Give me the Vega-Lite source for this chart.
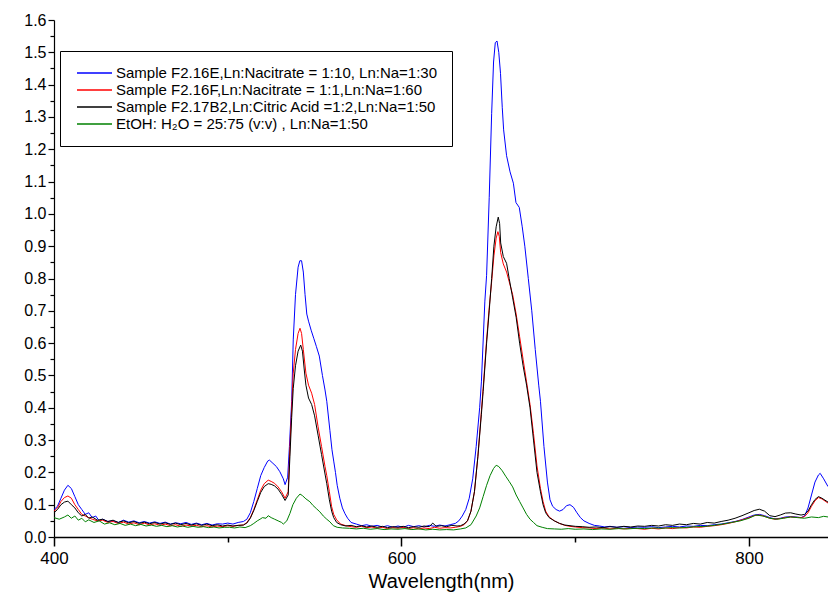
{
  "$schema": "https://vega.github.io/schema/vega-lite/v6.json",
  "width": 774,
  "height": 517,
  "autosize": {"type": "none"},
  "padding": {"left": 54, "top": 20, "right": 0, "bottom": 71},
  "config": {"view": {"stroke": null}, "font": "Liberation Sans"},
  "datasets": {
    "labels": [
      {"id": "E", "label": "Sample F2.16E,Ln:Nacitrate = 1:10, Ln:Na=1:30"},
      {"id": "F", "label": "Sample F2.16F,Ln:Nacitrate = 1:1,Ln:Na=1:60"},
      {"id": "B2", "label": "Sample F2.17B2,Ln:Citric Acid =1:2,Ln:Na=1:50"},
      {"id": "G", "label": "EtOH: H₂O = 25:75 (v:v) , Ln:Na=1:50"}
    ]
  },
  "data": {"values": [
{"id":"E","nm":400,"v":0.085},{"id":"E","nm":402,"v":0.095},{"id":"E","nm":404,"v":0.12},{"id":"E","nm":406,"v":0.145},{"id":"E","nm":408,"v":0.16},{"id":"E","nm":410,"v":0.15},{"id":"E","nm":412,"v":0.125},{"id":"E","nm":414,"v":0.1},{"id":"E","nm":416,"v":0.085},{"id":"E","nm":418,"v":0.07},{"id":"E","nm":420,"v":0.075},{"id":"E","nm":422,"v":0.06},{"id":"E","nm":424,"v":0.065},{"id":"E","nm":426,"v":0.05},{"id":"E","nm":428,"v":0.055},{"id":"E","nm":431,"v":0.048},{"id":"E","nm":434,"v":0.05},{"id":"E","nm":437,"v":0.045},{"id":"E","nm":440,"v":0.052},{"id":"E","nm":443,"v":0.046},{"id":"E","nm":446,"v":0.05},{"id":"E","nm":449,"v":0.044},{"id":"E","nm":452,"v":0.048},{"id":"E","nm":455,"v":0.043},{"id":"E","nm":458,"v":0.047},{"id":"E","nm":461,"v":0.042},{"id":"E","nm":464,"v":0.046},{"id":"E","nm":467,"v":0.04},{"id":"E","nm":470,"v":0.044},{"id":"E","nm":473,"v":0.041},{"id":"E","nm":476,"v":0.045},{"id":"E","nm":479,"v":0.039},{"id":"E","nm":482,"v":0.043},{"id":"E","nm":485,"v":0.038},{"id":"E","nm":488,"v":0.042},{"id":"E","nm":491,"v":0.037},{"id":"E","nm":494,"v":0.041},{"id":"E","nm":497,"v":0.04},{"id":"E","nm":500,"v":0.043},{"id":"E","nm":503,"v":0.04},{"id":"E","nm":506,"v":0.045},{"id":"E","nm":509,"v":0.048},{"id":"E","nm":511,"v":0.055},{"id":"E","nm":513,"v":0.075},{"id":"E","nm":515,"v":0.11},{"id":"E","nm":517,"v":0.15},{"id":"E","nm":519,"v":0.19},{"id":"E","nm":521,"v":0.215},{"id":"E","nm":523,"v":0.235},{"id":"E","nm":524,"v":0.238},{"id":"E","nm":526,"v":0.228},{"id":"E","nm":528,"v":0.218},{"id":"E","nm":530,"v":0.202},{"id":"E","nm":532,"v":0.18},{"id":"E","nm":533,"v":0.162},{"id":"E","nm":534.5,"v":0.185},{"id":"E","nm":535.5,"v":0.28},{"id":"E","nm":536.8,"v":0.42},{"id":"E","nm":537.7,"v":0.61},{"id":"E","nm":539,"v":0.75},{"id":"E","nm":540.5,"v":0.835},{"id":"E","nm":541.5,"v":0.855},{"id":"E","nm":542.5,"v":0.855},{"id":"E","nm":543.5,"v":0.82},{"id":"E","nm":544.5,"v":0.75},{"id":"E","nm":545.5,"v":0.69},{"id":"E","nm":546.5,"v":0.668},{"id":"E","nm":548,"v":0.64},{"id":"E","nm":549.5,"v":0.615},{"id":"E","nm":551,"v":0.59},{"id":"E","nm":552.7,"v":0.56},{"id":"E","nm":554.5,"v":0.5},{"id":"E","nm":556,"v":0.455},{"id":"E","nm":557,"v":0.42},{"id":"E","nm":558.8,"v":0.33},{"id":"E","nm":560,"v":0.27},{"id":"E","nm":561,"v":0.235},{"id":"E","nm":562,"v":0.2},{"id":"E","nm":563,"v":0.16},{"id":"E","nm":564.5,"v":0.12},{"id":"E","nm":566,"v":0.09},{"id":"E","nm":567.5,"v":0.072},{"id":"E","nm":569,"v":0.058},{"id":"E","nm":571,"v":0.045},{"id":"E","nm":574,"v":0.04},{"id":"E","nm":577,"v":0.035},{"id":"E","nm":580,"v":0.038},{"id":"E","nm":583,"v":0.033},{"id":"E","nm":586,"v":0.036},{"id":"E","nm":589,"v":0.031},{"id":"E","nm":592,"v":0.035},{"id":"E","nm":595,"v":0.03},{"id":"E","nm":598,"v":0.034},{"id":"E","nm":601,"v":0.03},{"id":"E","nm":604,"v":0.036},{"id":"E","nm":607,"v":0.032},{"id":"E","nm":610,"v":0.035},{"id":"E","nm":613,"v":0.031},{"id":"E","nm":616,"v":0.036},{"id":"E","nm":619,"v":0.033},{"id":"E","nm":622,"v":0.037},{"id":"E","nm":625,"v":0.034},{"id":"E","nm":628,"v":0.038},{"id":"E","nm":631,"v":0.042},{"id":"E","nm":633,"v":0.05},{"id":"E","nm":635,"v":0.065},{"id":"E","nm":637,"v":0.085},{"id":"E","nm":639,"v":0.12},{"id":"E","nm":641,"v":0.18},{"id":"E","nm":643,"v":0.28},{"id":"E","nm":645,"v":0.4},{"id":"E","nm":646,"v":0.48},{"id":"E","nm":648,"v":0.73},{"id":"E","nm":649,"v":0.81},{"id":"E","nm":650.5,"v":1.05},{"id":"E","nm":651.9,"v":1.31},{"id":"E","nm":653,"v":1.47},{"id":"E","nm":654,"v":1.53},{"id":"E","nm":655,"v":1.535},{"id":"E","nm":656,"v":1.5},{"id":"E","nm":657,"v":1.435},{"id":"E","nm":658,"v":1.33},{"id":"E","nm":658.8,"v":1.26},{"id":"E","nm":660.5,"v":1.18},{"id":"E","nm":662.5,"v":1.13},{"id":"E","nm":664.4,"v":1.095},{"id":"E","nm":665.9,"v":1.035},{"id":"E","nm":667.8,"v":1.02},{"id":"E","nm":669.5,"v":0.96},{"id":"E","nm":671,"v":0.9},{"id":"E","nm":673,"v":0.8},{"id":"E","nm":675,"v":0.7},{"id":"E","nm":677,"v":0.58},{"id":"E","nm":679,"v":0.47},{"id":"E","nm":680,"v":0.42},{"id":"E","nm":682,"v":0.28},{"id":"E","nm":684,"v":0.17},{"id":"E","nm":685.5,"v":0.115},{"id":"E","nm":687,"v":0.095},{"id":"E","nm":689,"v":0.085},{"id":"E","nm":691,"v":0.08},{"id":"E","nm":693,"v":0.085},{"id":"E","nm":695,"v":0.097},{"id":"E","nm":697,"v":0.1},{"id":"E","nm":699,"v":0.092},{"id":"E","nm":701,"v":0.075},{"id":"E","nm":703,"v":0.06},{"id":"E","nm":705,"v":0.05},{"id":"E","nm":708,"v":0.042},{"id":"E","nm":711,"v":0.036},{"id":"E","nm":714,"v":0.034},{"id":"E","nm":717,"v":0.031},{"id":"E","nm":720,"v":0.033},{"id":"E","nm":724,"v":0.03},{"id":"E","nm":728,"v":0.032},{"id":"E","nm":732,"v":0.029},{"id":"E","nm":736,"v":0.031},{"id":"E","nm":740,"v":0.03},{"id":"E","nm":744,"v":0.032},{"id":"E","nm":748,"v":0.029},{"id":"E","nm":752,"v":0.031},{"id":"E","nm":756,"v":0.033},{"id":"E","nm":760,"v":0.031},{"id":"E","nm":764,"v":0.034},{"id":"E","nm":768,"v":0.033},{"id":"E","nm":772,"v":0.036},{"id":"E","nm":776,"v":0.035},{"id":"E","nm":780,"v":0.038},{"id":"E","nm":784,"v":0.04},{"id":"E","nm":788,"v":0.044},{"id":"E","nm":792,"v":0.048},{"id":"E","nm":796,"v":0.054},{"id":"E","nm":800,"v":0.062},{"id":"E","nm":803,"v":0.068},{"id":"E","nm":806,"v":0.07},{"id":"E","nm":809,"v":0.066},{"id":"E","nm":812,"v":0.06},{"id":"E","nm":815,"v":0.056},{"id":"E","nm":818,"v":0.058},{"id":"E","nm":821,"v":0.062},{"id":"E","nm":824,"v":0.063},{"id":"E","nm":827,"v":0.062},{"id":"E","nm":830,"v":0.06},{"id":"E","nm":832,"v":0.065},{"id":"E","nm":834,"v":0.09},{"id":"E","nm":836,"v":0.13},{"id":"E","nm":838,"v":0.17},{"id":"E","nm":840,"v":0.192},{"id":"E","nm":841,"v":0.197},{"id":"E","nm":843,"v":0.18},{"id":"E","nm":845.5,"v":0.156},

{"id":"F","nm":400,"v":0.08},{"id":"F","nm":402,"v":0.09},{"id":"F","nm":404,"v":0.11},{"id":"F","nm":406,"v":0.122},{"id":"F","nm":408,"v":0.127},{"id":"F","nm":410,"v":0.12},{"id":"F","nm":412,"v":0.1},{"id":"F","nm":414,"v":0.085},{"id":"F","nm":416,"v":0.07},{"id":"F","nm":418,"v":0.065},{"id":"F","nm":420,"v":0.06},{"id":"F","nm":422,"v":0.055},{"id":"F","nm":425,"v":0.05},{"id":"F","nm":428,"v":0.052},{"id":"F","nm":431,"v":0.045},{"id":"F","nm":434,"v":0.048},{"id":"F","nm":437,"v":0.042},{"id":"F","nm":440,"v":0.046},{"id":"F","nm":443,"v":0.04},{"id":"F","nm":446,"v":0.044},{"id":"F","nm":449,"v":0.038},{"id":"F","nm":452,"v":0.043},{"id":"F","nm":455,"v":0.037},{"id":"F","nm":458,"v":0.041},{"id":"F","nm":461,"v":0.036},{"id":"F","nm":464,"v":0.04},{"id":"F","nm":467,"v":0.035},{"id":"F","nm":470,"v":0.038},{"id":"F","nm":473,"v":0.033},{"id":"F","nm":476,"v":0.037},{"id":"F","nm":479,"v":0.034},{"id":"F","nm":482,"v":0.036},{"id":"F","nm":485,"v":0.032},{"id":"F","nm":488,"v":0.035},{"id":"F","nm":491,"v":0.031},{"id":"F","nm":494,"v":0.034},{"id":"F","nm":497,"v":0.032},{"id":"F","nm":500,"v":0.035},{"id":"F","nm":503,"v":0.033},{"id":"F","nm":506,"v":0.036},{"id":"F","nm":509,"v":0.037},{"id":"F","nm":511,"v":0.045},{"id":"F","nm":513,"v":0.06},{"id":"F","nm":515,"v":0.085},{"id":"F","nm":517,"v":0.115},{"id":"F","nm":519,"v":0.145},{"id":"F","nm":521,"v":0.165},{"id":"F","nm":523.3,"v":0.176},{"id":"F","nm":525,"v":0.172},{"id":"F","nm":527,"v":0.166},{"id":"F","nm":529,"v":0.155},{"id":"F","nm":531,"v":0.14},{"id":"F","nm":533,"v":0.12},{"id":"F","nm":534.8,"v":0.14},{"id":"F","nm":535.8,"v":0.28},{"id":"F","nm":536.8,"v":0.4},{"id":"F","nm":537.7,"v":0.507},{"id":"F","nm":539,"v":0.58},{"id":"F","nm":540.5,"v":0.63},{"id":"F","nm":541.6,"v":0.646},{"id":"F","nm":542.5,"v":0.63},{"id":"F","nm":543.5,"v":0.58},{"id":"F","nm":545,"v":0.507},{"id":"F","nm":546.5,"v":0.47},{"id":"F","nm":548.3,"v":0.445},{"id":"F","nm":550,"v":0.41},{"id":"F","nm":552,"v":0.341},{"id":"F","nm":554,"v":0.28},{"id":"F","nm":556,"v":0.218},{"id":"F","nm":557,"v":0.19},{"id":"F","nm":558.5,"v":0.14},{"id":"F","nm":559.8,"v":0.094},{"id":"F","nm":561,"v":0.07},{"id":"F","nm":562.7,"v":0.053},{"id":"F","nm":565,"v":0.04},{"id":"F","nm":568,"v":0.035},{"id":"F","nm":571,"v":0.032},{"id":"F","nm":574,"v":0.03},{"id":"F","nm":577,"v":0.033},{"id":"F","nm":580,"v":0.029},{"id":"F","nm":583,"v":0.031},{"id":"F","nm":586,"v":0.027},{"id":"F","nm":589,"v":0.03},{"id":"F","nm":592,"v":0.026},{"id":"F","nm":595,"v":0.029},{"id":"F","nm":598,"v":0.027},{"id":"F","nm":601,"v":0.03},{"id":"F","nm":604,"v":0.026},{"id":"F","nm":607,"v":0.029},{"id":"F","nm":610,"v":0.025},{"id":"F","nm":613,"v":0.028},{"id":"F","nm":616,"v":0.026},{"id":"F","nm":619,"v":0.03},{"id":"F","nm":622,"v":0.027},{"id":"F","nm":625,"v":0.029},{"id":"F","nm":628,"v":0.028},{"id":"F","nm":631,"v":0.03},{"id":"F","nm":634,"v":0.033},{"id":"F","nm":636,"v":0.038},{"id":"F","nm":638,"v":0.05},{"id":"F","nm":640,"v":0.08},{"id":"F","nm":642,"v":0.14},{"id":"F","nm":644,"v":0.25},{"id":"F","nm":646,"v":0.39},{"id":"F","nm":647,"v":0.46},{"id":"F","nm":649,"v":0.61},{"id":"F","nm":650.5,"v":0.71},{"id":"F","nm":651.9,"v":0.79},{"id":"F","nm":653.2,"v":0.87},{"id":"F","nm":654.5,"v":0.925},{"id":"F","nm":655.5,"v":0.945},{"id":"F","nm":656.3,"v":0.93},{"id":"F","nm":657.1,"v":0.88},{"id":"F","nm":658.6,"v":0.845},{"id":"F","nm":660.5,"v":0.82},{"id":"F","nm":662,"v":0.79},{"id":"F","nm":664,"v":0.75},{"id":"F","nm":666,"v":0.69},{"id":"F","nm":668,"v":0.62},{"id":"F","nm":670,"v":0.55},{"id":"F","nm":672,"v":0.48},{"id":"F","nm":674,"v":0.41},{"id":"F","nm":676,"v":0.32},{"id":"F","nm":678,"v":0.22},{"id":"F","nm":680,"v":0.15},{"id":"F","nm":681.5,"v":0.11},{"id":"F","nm":683,"v":0.08},{"id":"F","nm":685,"v":0.062},{"id":"F","nm":688,"v":0.05},{"id":"F","nm":691,"v":0.042},{"id":"F","nm":694,"v":0.036},{"id":"F","nm":697,"v":0.033},{"id":"F","nm":700,"v":0.031},{"id":"F","nm":704,"v":0.029},{"id":"F","nm":708,"v":0.028},{"id":"F","nm":712,"v":0.026},{"id":"F","nm":716,"v":0.028},{"id":"F","nm":720,"v":0.025},{"id":"F","nm":724,"v":0.027},{"id":"F","nm":728,"v":0.025},{"id":"F","nm":732,"v":0.027},{"id":"F","nm":736,"v":0.026},{"id":"F","nm":740,"v":0.024},{"id":"F","nm":744,"v":0.027},{"id":"F","nm":748,"v":0.025},{"id":"F","nm":752,"v":0.028},{"id":"F","nm":756,"v":0.026},{"id":"F","nm":760,"v":0.029},{"id":"F","nm":764,"v":0.028},{"id":"F","nm":768,"v":0.031},{"id":"F","nm":772,"v":0.03},{"id":"F","nm":776,"v":0.033},{"id":"F","nm":780,"v":0.035},{"id":"F","nm":784,"v":0.038},{"id":"F","nm":788,"v":0.042},{"id":"F","nm":792,"v":0.047},{"id":"F","nm":796,"v":0.053},{"id":"F","nm":800,"v":0.06},{"id":"F","nm":803,"v":0.066},{"id":"F","nm":806,"v":0.068},{"id":"F","nm":809,"v":0.064},{"id":"F","nm":812,"v":0.058},{"id":"F","nm":815,"v":0.055},{"id":"F","nm":818,"v":0.057},{"id":"F","nm":821,"v":0.06},{"id":"F","nm":824,"v":0.062},{"id":"F","nm":827,"v":0.061},{"id":"F","nm":830,"v":0.06},{"id":"F","nm":832,"v":0.063},{"id":"F","nm":834,"v":0.075},{"id":"F","nm":836,"v":0.095},{"id":"F","nm":838,"v":0.112},{"id":"F","nm":840,"v":0.122},{"id":"F","nm":842,"v":0.118},{"id":"F","nm":845.5,"v":0.105},

{"id":"B2","nm":400,"v":0.075},{"id":"B2","nm":402,"v":0.085},{"id":"B2","nm":404,"v":0.1},{"id":"B2","nm":406,"v":0.108},{"id":"B2","nm":408,"v":0.111},{"id":"B2","nm":410,"v":0.1},{"id":"B2","nm":412,"v":0.09},{"id":"B2","nm":414,"v":0.075},{"id":"B2","nm":416,"v":0.065},{"id":"B2","nm":418,"v":0.07},{"id":"B2","nm":420,"v":0.058},{"id":"B2","nm":422,"v":0.062},{"id":"B2","nm":425,"v":0.052},{"id":"B2","nm":428,"v":0.055},{"id":"B2","nm":431,"v":0.048},{"id":"B2","nm":434,"v":0.052},{"id":"B2","nm":437,"v":0.045},{"id":"B2","nm":440,"v":0.05},{"id":"B2","nm":443,"v":0.044},{"id":"B2","nm":446,"v":0.048},{"id":"B2","nm":449,"v":0.042},{"id":"B2","nm":452,"v":0.046},{"id":"B2","nm":455,"v":0.041},{"id":"B2","nm":458,"v":0.045},{"id":"B2","nm":461,"v":0.04},{"id":"B2","nm":464,"v":0.044},{"id":"B2","nm":467,"v":0.039},{"id":"B2","nm":470,"v":0.043},{"id":"B2","nm":473,"v":0.038},{"id":"B2","nm":476,"v":0.042},{"id":"B2","nm":479,"v":0.037},{"id":"B2","nm":482,"v":0.041},{"id":"B2","nm":485,"v":0.036},{"id":"B2","nm":488,"v":0.04},{"id":"B2","nm":491,"v":0.035},{"id":"B2","nm":494,"v":0.038},{"id":"B2","nm":497,"v":0.034},{"id":"B2","nm":500,"v":0.037},{"id":"B2","nm":503,"v":0.034},{"id":"B2","nm":506,"v":0.036},{"id":"B2","nm":509,"v":0.037},{"id":"B2","nm":511,"v":0.043},{"id":"B2","nm":513,"v":0.058},{"id":"B2","nm":515,"v":0.082},{"id":"B2","nm":517,"v":0.11},{"id":"B2","nm":519,"v":0.138},{"id":"B2","nm":521,"v":0.156},{"id":"B2","nm":523.3,"v":0.165},{"id":"B2","nm":525,"v":0.163},{"id":"B2","nm":527,"v":0.158},{"id":"B2","nm":529,"v":0.148},{"id":"B2","nm":531,"v":0.132},{"id":"B2","nm":533,"v":0.113},{"id":"B2","nm":534.8,"v":0.13},{"id":"B2","nm":535.8,"v":0.25},{"id":"B2","nm":536.8,"v":0.37},{"id":"B2","nm":537.7,"v":0.46},{"id":"B2","nm":539,"v":0.53},{"id":"B2","nm":540.5,"v":0.575},{"id":"B2","nm":542,"v":0.594},{"id":"B2","nm":543,"v":0.575},{"id":"B2","nm":544,"v":0.52},{"id":"B2","nm":545,"v":0.47},{"id":"B2","nm":546.5,"v":0.43},{"id":"B2","nm":548.3,"v":0.41},{"id":"B2","nm":550,"v":0.375},{"id":"B2","nm":552,"v":0.315},{"id":"B2","nm":554,"v":0.255},{"id":"B2","nm":556,"v":0.195},{"id":"B2","nm":557,"v":0.165},{"id":"B2","nm":558.5,"v":0.115},{"id":"B2","nm":559.8,"v":0.08},{"id":"B2","nm":561,"v":0.06},{"id":"B2","nm":562.7,"v":0.045},{"id":"B2","nm":565,"v":0.038},{"id":"B2","nm":568,"v":0.034},{"id":"B2","nm":571,"v":0.036},{"id":"B2","nm":574,"v":0.032},{"id":"B2","nm":577,"v":0.035},{"id":"B2","nm":580,"v":0.031},{"id":"B2","nm":583,"v":0.034},{"id":"B2","nm":586,"v":0.03},{"id":"B2","nm":589,"v":0.033},{"id":"B2","nm":592,"v":0.029},{"id":"B2","nm":595,"v":0.032},{"id":"B2","nm":598,"v":0.03},{"id":"B2","nm":601,"v":0.033},{"id":"B2","nm":604,"v":0.029},{"id":"B2","nm":607,"v":0.032},{"id":"B2","nm":610,"v":0.03},{"id":"B2","nm":613,"v":0.034},{"id":"B2","nm":616,"v":0.032},{"id":"B2","nm":618,"v":0.043},{"id":"B2","nm":620,"v":0.033},{"id":"B2","nm":623,"v":0.035},{"id":"B2","nm":626,"v":0.032},{"id":"B2","nm":629,"v":0.036},{"id":"B2","nm":632,"v":0.034},{"id":"B2","nm":634,"v":0.035},{"id":"B2","nm":636,"v":0.04},{"id":"B2","nm":638,"v":0.05},{"id":"B2","nm":640,"v":0.08},{"id":"B2","nm":642,"v":0.14},{"id":"B2","nm":644,"v":0.25},{"id":"B2","nm":646,"v":0.38},{"id":"B2","nm":647,"v":0.45},{"id":"B2","nm":649,"v":0.6},{"id":"B2","nm":650.5,"v":0.7},{"id":"B2","nm":651.9,"v":0.8},{"id":"B2","nm":653.2,"v":0.9},{"id":"B2","nm":654.5,"v":0.96},{"id":"B2","nm":655.7,"v":0.99},{"id":"B2","nm":656.5,"v":0.97},{"id":"B2","nm":657.1,"v":0.91},{"id":"B2","nm":658.6,"v":0.868},{"id":"B2","nm":660.5,"v":0.847},{"id":"B2","nm":662,"v":0.8},{"id":"B2","nm":664,"v":0.74},{"id":"B2","nm":666,"v":0.68},{"id":"B2","nm":668,"v":0.6},{"id":"B2","nm":670,"v":0.53},{"id":"B2","nm":672,"v":0.47},{"id":"B2","nm":674,"v":0.4},{"id":"B2","nm":676,"v":0.3},{"id":"B2","nm":678,"v":0.2},{"id":"B2","nm":680,"v":0.14},{"id":"B2","nm":681.5,"v":0.1},{"id":"B2","nm":683,"v":0.075},{"id":"B2","nm":685,"v":0.06},{"id":"B2","nm":688,"v":0.05},{"id":"B2","nm":691,"v":0.042},{"id":"B2","nm":694,"v":0.037},{"id":"B2","nm":697,"v":0.035},{"id":"B2","nm":700,"v":0.033},{"id":"B2","nm":704,"v":0.032},{"id":"B2","nm":708,"v":0.03},{"id":"B2","nm":712,"v":0.031},{"id":"B2","nm":716,"v":0.029},{"id":"B2","nm":720,"v":0.032},{"id":"B2","nm":724,"v":0.03},{"id":"B2","nm":728,"v":0.033},{"id":"B2","nm":732,"v":0.031},{"id":"B2","nm":736,"v":0.034},{"id":"B2","nm":740,"v":0.033},{"id":"B2","nm":744,"v":0.036},{"id":"B2","nm":748,"v":0.034},{"id":"B2","nm":752,"v":0.038},{"id":"B2","nm":756,"v":0.036},{"id":"B2","nm":760,"v":0.04},{"id":"B2","nm":764,"v":0.038},{"id":"B2","nm":768,"v":0.042},{"id":"B2","nm":772,"v":0.04},{"id":"B2","nm":776,"v":0.045},{"id":"B2","nm":780,"v":0.043},{"id":"B2","nm":784,"v":0.048},{"id":"B2","nm":788,"v":0.052},{"id":"B2","nm":792,"v":0.058},{"id":"B2","nm":796,"v":0.066},{"id":"B2","nm":800,"v":0.075},{"id":"B2","nm":803,"v":0.082},{"id":"B2","nm":806,"v":0.086},{"id":"B2","nm":809,"v":0.08},{"id":"B2","nm":812,"v":0.066},{"id":"B2","nm":815,"v":0.063},{"id":"B2","nm":818,"v":0.068},{"id":"B2","nm":821,"v":0.074},{"id":"B2","nm":824,"v":0.075},{"id":"B2","nm":827,"v":0.071},{"id":"B2","nm":830,"v":0.068},{"id":"B2","nm":832,"v":0.07},{"id":"B2","nm":834,"v":0.08},{"id":"B2","nm":836,"v":0.1},{"id":"B2","nm":838,"v":0.116},{"id":"B2","nm":840,"v":0.125},{"id":"B2","nm":842,"v":0.12},{"id":"B2","nm":845.5,"v":0.108},

{"id":"G","nm":400,"v":0.06},{"id":"G","nm":403,"v":0.055},{"id":"G","nm":406,"v":0.062},{"id":"G","nm":408,"v":0.068},{"id":"G","nm":410,"v":0.058},{"id":"G","nm":412,"v":0.065},{"id":"G","nm":414,"v":0.052},{"id":"G","nm":416,"v":0.058},{"id":"G","nm":418,"v":0.047},{"id":"G","nm":420,"v":0.053},{"id":"G","nm":423,"v":0.045},{"id":"G","nm":426,"v":0.05},{"id":"G","nm":429,"v":0.04},{"id":"G","nm":432,"v":0.044},{"id":"G","nm":435,"v":0.038},{"id":"G","nm":438,"v":0.042},{"id":"G","nm":441,"v":0.036},{"id":"G","nm":444,"v":0.04},{"id":"G","nm":447,"v":0.035},{"id":"G","nm":450,"v":0.039},{"id":"G","nm":453,"v":0.034},{"id":"G","nm":456,"v":0.037},{"id":"G","nm":459,"v":0.033},{"id":"G","nm":462,"v":0.036},{"id":"G","nm":465,"v":0.032},{"id":"G","nm":468,"v":0.035},{"id":"G","nm":471,"v":0.031},{"id":"G","nm":474,"v":0.034},{"id":"G","nm":477,"v":0.03},{"id":"G","nm":480,"v":0.033},{"id":"G","nm":483,"v":0.03},{"id":"G","nm":486,"v":0.032},{"id":"G","nm":489,"v":0.029},{"id":"G","nm":492,"v":0.031},{"id":"G","nm":495,"v":0.028},{"id":"G","nm":498,"v":0.03},{"id":"G","nm":501,"v":0.03},{"id":"G","nm":504,"v":0.028},{"id":"G","nm":507,"v":0.031},{"id":"G","nm":510,"v":0.029},{"id":"G","nm":513,"v":0.035},{"id":"G","nm":515,"v":0.042},{"id":"G","nm":517,"v":0.05},{"id":"G","nm":518.6,"v":0.055},{"id":"G","nm":520,"v":0.06},{"id":"G","nm":522,"v":0.058},{"id":"G","nm":523.3,"v":0.066},{"id":"G","nm":525,"v":0.06},{"id":"G","nm":527,"v":0.055},{"id":"G","nm":529,"v":0.05},{"id":"G","nm":531,"v":0.045},{"id":"G","nm":532,"v":0.04},{"id":"G","nm":534,"v":0.05},{"id":"G","nm":535.8,"v":0.073},{"id":"G","nm":537.5,"v":0.1},{"id":"G","nm":539.5,"v":0.12},{"id":"G","nm":541.6,"v":0.133},{"id":"G","nm":543,"v":0.128},{"id":"G","nm":545,"v":0.118},{"id":"G","nm":547.3,"v":0.109},{"id":"G","nm":549,"v":0.098},{"id":"G","nm":551,"v":0.088},{"id":"G","nm":553,"v":0.078},{"id":"G","nm":555,"v":0.065},{"id":"G","nm":557,"v":0.055},{"id":"G","nm":558.8,"v":0.047},{"id":"G","nm":560.8,"v":0.035},{"id":"G","nm":563,"v":0.03},{"id":"G","nm":566,"v":0.028},{"id":"G","nm":570,"v":0.027},{"id":"G","nm":574,"v":0.025},{"id":"G","nm":578,"v":0.027},{"id":"G","nm":582,"v":0.024},{"id":"G","nm":586,"v":0.026},{"id":"G","nm":590,"v":0.023},{"id":"G","nm":594,"v":0.025},{"id":"G","nm":598,"v":0.024},{"id":"G","nm":602,"v":0.026},{"id":"G","nm":606,"v":0.023},{"id":"G","nm":610,"v":0.025},{"id":"G","nm":614,"v":0.022},{"id":"G","nm":618,"v":0.024},{"id":"G","nm":622,"v":0.022},{"id":"G","nm":626,"v":0.023},{"id":"G","nm":630,"v":0.022},{"id":"G","nm":634,"v":0.025},{"id":"G","nm":637,"v":0.028},{"id":"G","nm":640,"v":0.038},{"id":"G","nm":643,"v":0.065},{"id":"G","nm":645,"v":0.09},{"id":"G","nm":647,"v":0.125},{"id":"G","nm":649,"v":0.16},{"id":"G","nm":651,"v":0.19},{"id":"G","nm":653,"v":0.212},{"id":"G","nm":654.5,"v":0.222},{"id":"G","nm":656,"v":0.218},{"id":"G","nm":658,"v":0.205},{"id":"G","nm":660,"v":0.188},{"id":"G","nm":662,"v":0.172},{"id":"G","nm":664,"v":0.155},{"id":"G","nm":666,"v":0.13},{"id":"G","nm":668,"v":0.11},{"id":"G","nm":670,"v":0.09},{"id":"G","nm":672,"v":0.07},{"id":"G","nm":674,"v":0.055},{"id":"G","nm":676,"v":0.045},{"id":"G","nm":678,"v":0.035},{"id":"G","nm":681,"v":0.03},{"id":"G","nm":684,"v":0.026},{"id":"G","nm":688,"v":0.025},{"id":"G","nm":692,"v":0.024},{"id":"G","nm":696,"v":0.026},{"id":"G","nm":700,"v":0.024},{"id":"G","nm":705,"v":0.025},{"id":"G","nm":710,"v":0.023},{"id":"G","nm":715,"v":0.025},{"id":"G","nm":720,"v":0.024},{"id":"G","nm":725,"v":0.026},{"id":"G","nm":730,"v":0.025},{"id":"G","nm":735,"v":0.027},{"id":"G","nm":740,"v":0.026},{"id":"G","nm":745,"v":0.028},{"id":"G","nm":750,"v":0.027},{"id":"G","nm":755,"v":0.029},{"id":"G","nm":760,"v":0.028},{"id":"G","nm":765,"v":0.03},{"id":"G","nm":770,"v":0.032},{"id":"G","nm":775,"v":0.033},{"id":"G","nm":780,"v":0.036},{"id":"G","nm":785,"v":0.04},{"id":"G","nm":790,"v":0.045},{"id":"G","nm":795,"v":0.05},{"id":"G","nm":800,"v":0.058},{"id":"G","nm":804,"v":0.068},{"id":"G","nm":808,"v":0.065},{"id":"G","nm":812,"v":0.058},{"id":"G","nm":816,"v":0.055},{"id":"G","nm":820,"v":0.058},{"id":"G","nm":824,"v":0.062},{"id":"G","nm":828,"v":0.06},{"id":"G","nm":832,"v":0.058},{"id":"G","nm":836,"v":0.062},{"id":"G","nm":840,"v":0.06},{"id":"G","nm":843,"v":0.064},{"id":"G","nm":845.5,"v":0.062}
  ]},
  "transform": [
    {"lookup": "id", "from": {"data": {"name": "labels"}, "key": "id", "fields": ["label"]}}
  ],
  "layer": [
    {
      "mark": {"type": "line", "strokeWidth": 1, "clip": true},
      "encoding": {
        "x": {
          "field": "nm", "type": "quantitative",
          "scale": {"domain": [400, 845.5], "nice": false, "zero": false},
          "axis": {
            "orient": "bottom",
            "values": [400, 600, 800],
            "format": "d",
            "labelFlush": false,
            "tickSize": 9, "tickColor": "black", "tickWidth": 1.5,
            "domainColor": "black", "domainWidth": 1.5,
            "grid": false,
            "labelFont": "Liberation Sans", "labelFontSize": 17, "labelColor": "black", "labelPadding": 4,
            "title": "Wavelength(nm)", "titleFont": "Liberation Sans", "titleFontSize": 20,
            "titleFontWeight": "normal", "titleColor": "black", "titlePadding": 5
          }
        },
        "y": {
          "field": "v", "type": "quantitative",
          "scale": {"domain": [0, 1.6], "nice": false, "zero": true},
          "axis": {
            "orient": "left",
            "values": [0, 0.1, 0.2, 0.3, 0.4, 0.5, 0.6, 0.7, 0.8, 0.9, 1.0, 1.1, 1.2, 1.3, 1.4, 1.5, 1.6],
            "format": ".1f",
            "labelFlush": false,
            "tickSize": 6, "tickColor": "black", "tickWidth": 1.2,
            "domainColor": "black", "domainWidth": 1.2,
            "grid": false,
            "labelFont": "Liberation Sans", "labelFontSize": 16, "labelColor": "black", "labelPadding": 2,
            "title": null
          }
        },
        "color": {
          "field": "label", "type": "nominal",
          "scale": {
            "domain": ["Sample F2.16E,Ln:Nacitrate = 1:10, Ln:Na=1:30", "Sample F2.16F,Ln:Nacitrate = 1:1,Ln:Na=1:60", "Sample F2.17B2,Ln:Citric Acid =1:2,Ln:Na=1:50", "EtOH: H₂O = 25:75 (v:v) , Ln:Na=1:50"],
            "range": ["#0000ff", "#ff0000", "#000000", "#008000"]
          },
          "legend": {
            "orient": "none", "legendX": 6, "legendY": 31,
            "title": null,
            "symbolType": "stroke", "symbolSize": 1225, "symbolStrokeWidth": 1.5,
            "labelFont": "Liberation Sans", "labelFontSize": 15, "labelColor": "black", "labelLimit": 0,
            "labelOffset": 3, "symbolOffset": 2,
            "clipHeight": 16,
            "strokeColor": "black", "fillColor": "white",
            "padding": 14, "rowPadding": 1
          }
        }
      }
    },
    {
      "transform": [{"filter": "datum.id === 'G' && datum.nm === 400"}],
      "mark": {"type": "point", "opacity": 0},
      "encoding": {
        "x": {
          "field": "nm", "type": "quantitative",
          "scale": {"domain": [400, 845.5], "nice": false, "zero": false},
          "axis": {
            "orient": "bottom", "values": [500, 700], "labels": false, "domain": false,
            "tickSize": 5, "tickColor": "black", "tickWidth": 1.5, "grid": false, "title": null
          }
        },
        "y": {
          "field": "v", "type": "quantitative",
          "scale": {"domain": [0, 1.6], "nice": false, "zero": true},
          "axis": {
            "orient": "left",
            "values": [0.05, 0.15, 0.25, 0.35, 0.45, 0.55, 0.65, 0.75, 0.85, 0.95, 1.05, 1.15, 1.25, 1.35, 1.45, 1.55],
            "labels": false, "domain": false,
            "tickSize": 4, "tickColor": "black", "tickWidth": 1.2, "grid": false, "title": null
          }
        }
      }
    }
  ],
  "resolve": {"axis": {"x": "independent", "y": "independent"}}
}
